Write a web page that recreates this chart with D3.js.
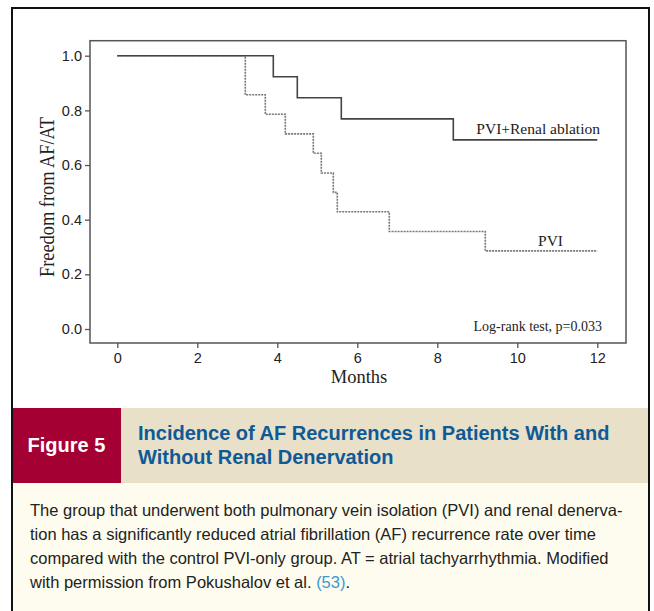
<!DOCTYPE html>
<html>
<head>
<meta charset="utf-8">
<script src="https://cdn.jsdelivr.net/npm/d3@7"></script>
<style>
  body { margin: 0; background: #fff; }
  svg { display: block; }
</style>
</head>
<body>
<div class="figure"></div>
<script>
// Kaplan-Meier data
const monthTicks = [0, 2, 4, 6, 8, 10, 12];
const survTicks = [0, 0.2, 0.4, 0.6, 0.8, 1.0];
const renalMonths = [0, 3.9, 4.5, 5.6, 8.4, 12];
const renalSurv = [1, 0.923, 0.846, 0.769, 0.692, 0.692];
const pviMonths = [0, 3.2, 3.7, 4.2, 4.9, 5.1, 5.4, 5.5, 6.8, 9.2, 12];
const pviSurv = [1, 0.857, 0.786, 0.714, 0.643, 0.571, 0.5, 0.429, 0.357, 0.286, 0.286];

const titleLines = ['Incidence of AF Recurrences in Patients With and', 'Without Renal Denervation'];
const captionLines = [
  'The group that underwent both pulmonary vein isolation (PVI) and renal denerva-',
  'tion has a significantly reduced atrial fibrillation (AF) recurrence rate over time',
  'compared with the control PVI-only group. AT = atrial tachyarrhythmia. Modified',
  'with permission from Pokushalov et al. '
];

const width = 654;
const height = 611;
const svg = d3.select('.figure')
  .append('svg')
  .attr('width', width)
  .attr('height', height);

// outer frame of the figure
svg.append('rect')
  .attr('x', 12).attr('y', 8)
  .attr('width', 637).attr('height', 620)
  .attr('fill', 'none')
  .attr('stroke', '#111')
  .attr('stroke-width', 2);

// scales
const x = d3.scaleLinear().domain([0, 12]).range([117.3, 597.3]);
const y = d3.scaleLinear().domain([0, 1]).range([329, 55.7]);

// plot frame
const fx0 = 90, fx1 = 626, fy0 = 40.7, fy1 = 343;
svg.append('rect')
  .attr('x', fx0).attr('y', fy0)
  .attr('width', fx1 - fx0).attr('height', fy1 - fy0)
  .attr('fill', 'none')
  .attr('stroke', '#555')
  .attr('stroke-width', 1.5);

// axes
const xAxis = svg.append('g')
  .attr('transform', `translate(0,${fy1})`)
  .call(d3.axisBottom(x).tickValues(monthTicks).tickSize(5).tickPadding(5).tickFormat(d3.format('d')));
const yAxis = svg.append('g')
  .attr('transform', `translate(${fx0},0)`)
  .call(d3.axisLeft(y).tickValues(survTicks).tickSize(5).tickPadding(3).tickFormat(d3.format('.1f')));

[xAxis, yAxis].forEach(a => {
  a.attr('font-size', 14.5).attr('font-family', 'Arial, "Liberation Sans", sans-serif');
  a.select('.domain').remove();
  a.selectAll('line').attr('stroke', '#555').attr('stroke-width', 1.3);
  a.selectAll('text').attr('fill', '#222');
});

// axis titles
const serif = '"Times New Roman", "Liberation Serif", serif';
svg.append('text')
  .attr('x', 359).attr('y', 383)
  .attr('text-anchor', 'middle')
  .attr('font-family', serif)
  .attr('font-size', 18.5)
  .attr('fill', '#222')
  .text('Months');

svg.append('text')
  .attr('transform', 'translate(54,197) rotate(-90)')
  .attr('text-anchor', 'middle')
  .attr('font-family', serif)
  .attr('font-size', 20)
  .attr('textLength', 160)
  .attr('lengthAdjust', 'spacingAndGlyphs')
  .attr('fill', '#222')
  .text('Freedom from AF/AT');

// step curves
const km = d3.line()
  .x(d => x(d[0]))
  .y(d => y(d[1]))
  .curve(d3.curveStepAfter);

svg.append('path')
  .datum(pviMonths.map((m, i) => [m, pviSurv[i]]))
  .attr('d', km)
  .attr('fill', 'none')
  .attr('stroke', '#777')
  .attr('stroke-width', 1.6)
  .attr('stroke-dasharray', '2,1');

svg.append('path')
  .datum(renalMonths.map((m, i) => [m, renalSurv[i]]))
  .attr('d', km)
  .attr('fill', 'none')
  .attr('stroke', '#444')
  .attr('stroke-width', 1.6);

// curve labels
svg.append('text')
  .attr('x', 600).attr('y', 134)
  .attr('text-anchor', 'end')
  .attr('font-family', serif).attr('font-size', 15.5)
  .attr('fill', '#222')
  .text('PVI+Renal ablation');
svg.append('text')
  .attr('x', 563).attr('y', 246)
  .attr('text-anchor', 'end')
  .attr('font-family', serif).attr('font-size', 15.5)
  .attr('fill', '#222')
  .text('PVI');
svg.append('text')
  .attr('x', 602).attr('y', 331)
  .attr('text-anchor', 'end')
  .attr('font-family', serif).attr('font-size', 14)
  .attr('fill', '#222')
  .text('Log-rank test, p=0.033');

// figure header band
const narrow = '"Liberation Sans Narrow", "Arial Narrow", "Liberation Sans", sans-serif';
svg.append('rect')
  .attr('x', 13).attr('y', 408)
  .attr('width', 635).attr('height', 75)
  .attr('fill', '#e8e0c9');
svg.append('rect')
  .attr('x', 13).attr('y', 483)
  .attr('width', 635).attr('height', 130)
  .attr('fill', '#fefcee');
svg.append('rect')
  .attr('x', 13).attr('y', 408)
  .attr('width', 108).attr('height', 75)
  .attr('fill', '#a50034');

svg.append('text')
  .attr('x', 66.5).attr('y', 452)
  .attr('text-anchor', 'middle')
  .attr('font-family', narrow)
  .attr('font-size', 20)
  .attr('font-weight', 'bold')
  .attr('fill', '#fff')
  .text('Figure 5');

svg.selectAll('text.title')
  .data(titleLines)
  .enter()
  .append('text')
  .attr('class', 'title')
  .attr('x', 138)
  .attr('y', (d, i) => 440 + i * 24)
  .attr('font-family', narrow)
  .attr('font-size', 20)
  .attr('font-weight', 'bold')
  .attr('fill', '#0f5a96')
  .text(d => d);

const cap = svg.selectAll('text.caption')
  .data(captionLines)
  .enter()
  .append('text')
  .attr('class', 'caption')
  .attr('x', 30)
  .attr('y', (d, i) => 516 + i * 24)
  .attr('font-family', narrow)
  .attr('font-size', 16.5)
  .attr('fill', '#222')
  .text(d => d);

// reference number in blue
cap.filter((d, i) => i === captionLines.length - 1)
  .append('tspan')
  .attr('fill', '#3a98d4')
  .text('(53)');
cap.filter((d, i) => i === captionLines.length - 1)
  .append('tspan')
  .text('.');
</script>
</body>
</html>
